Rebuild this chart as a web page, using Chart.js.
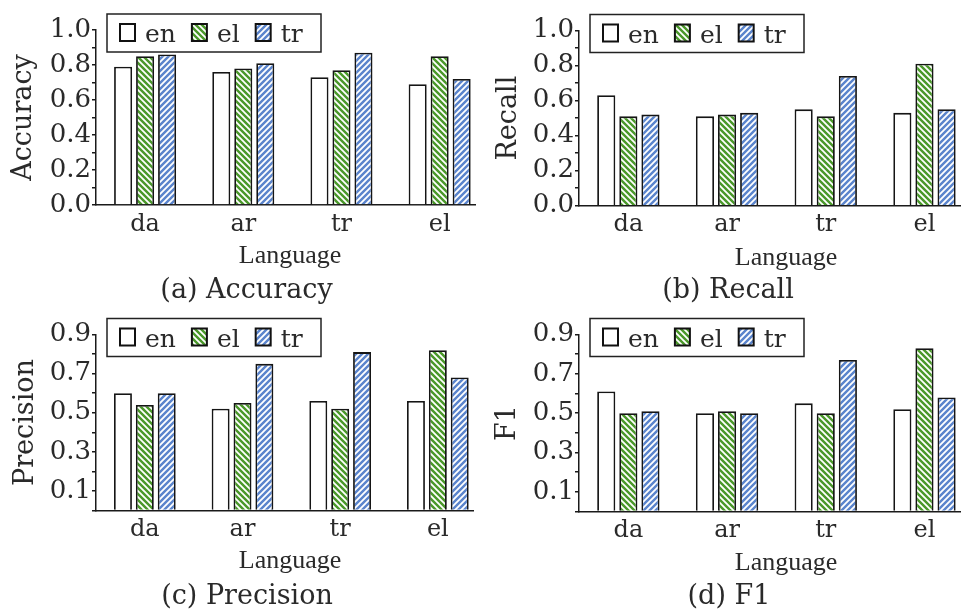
<!DOCTYPE html>
<html>
<head>
<meta charset="utf-8">
<script src="https://cdn.jsdelivr.net/npm/chart.js@4.4.1/dist/chart.umd.min.js"></script>
<style>
  body { margin: 0; background: #fff; }
  #wrap { position: relative; width: 962px; height: 610px; }
  canvas { position: absolute; }
</style>
</head>
<body>
<div id="wrap">
  <canvas id="accChart" width="480" height="305" style="left:0;top:0"></canvas>
  <canvas id="recChart" width="482" height="305" style="left:480px;top:0"></canvas>
  <canvas id="preChart" width="480" height="305" style="left:0;top:305px"></canvas>
  <canvas id="f1Chart" width="482" height="305" style="left:480px;top:305px"></canvas>
</div>
<script>
// languages on the x axis, and the three training languages (series)
const languages = ['da', 'ar', 'tr', 'el'];
const seriesNames = ['en', 'el', 'tr'];

// (a) Accuracy
const accEn = [0.79, 0.76, 0.73, 0.69];
const accEl = [0.85, 0.78, 0.77, 0.85];
const accTr = [0.86, 0.81, 0.87, 0.72];
// (b) Recall
const recEn = [0.63, 0.51, 0.55, 0.53];
const recEl = [0.51, 0.52, 0.51, 0.81];
const recTr = [0.52, 0.53, 0.74, 0.55];
// (c) Precision
const preEn = [0.60, 0.52, 0.56, 0.56];
const preEl = [0.54, 0.55, 0.52, 0.82];
const preTr = [0.60, 0.75, 0.81, 0.68];
// (d) F1
const f1En = [0.61, 0.50, 0.55, 0.52];
const f1El = [0.50, 0.51, 0.50, 0.83];
const f1Tr = [0.51, 0.50, 0.77, 0.58];

// labelled y ticks
const evenTicks = [0.0, 0.2, 0.4, 0.6, 0.8, 1.0];
const oddTicks = [0.1, 0.3, 0.5, 0.7, 0.9];

function stripes(bg, dir) {
  const c = document.createElement('canvas');
  c.width = 6; c.height = 6;
  const g = c.getContext('2d');
  g.fillStyle = bg;
  g.fillRect(0, 0, 6, 6);
  g.strokeStyle = '#fff';
  g.lineWidth = 1.8;
  g.beginPath();
  for (const k of [-6, 0, 6, 12]) {
    if (dir === 'back') { g.moveTo(k - 1, -1); g.lineTo(k + 7, 7); }
    else { g.moveTo(k + 1, -1); g.lineTo(k - 7, 7); }
  }
  g.stroke();
  return g.createPattern(c, 'repeat');
}
const greenHatch = stripes('#4a982a', 'back');
const blueHatch = stripes('#5a84cc', 'fwd');

// legend box inside the plot + x title + sub caption
const legendBox = {
  id: 'legendBox',
  afterDraw(chart, args, opts) {
    const { ctx, chartArea } = chart;
    const x = chartArea.left + 11, y = chartArea.top - 16;
    ctx.save();
    ctx.fillStyle = '#fff';
    ctx.fillRect(x, y, 214, 38);
    ctx.strokeStyle = '#222';
    ctx.lineWidth = 1.5;
    ctx.strokeRect(x, y, 214, 38);
    ctx.font = '25px "DejaVu Serif"';
    ctx.textBaseline = 'alphabetic';
    let ix = x + 13;
    chart.data.datasets.forEach(ds => {
      ctx.fillStyle = ds.backgroundColor;
      ctx.fillRect(ix, y + 10, 15, 17);
      ctx.strokeStyle = '#111';
      ctx.lineWidth = 2;
      ctx.strokeRect(ix, y + 10, 15, 17);
      ctx.fillStyle = '#2a2a2a';
      ctx.fillText(ds.label, ix + 25, y + 28);
      ix += 25 + ctx.measureText(ds.label).width + 16;
    });
    ctx.textAlign = 'center';
    ctx.font = '26px "Liberation Serif"';
    ctx.fillText('Language', opts.langX, opts.langY);
    ctx.font = '27px "DejaVu Serif"';
    ctx.fillText(opts.caption, opts.capX, opts.capY);
    ctx.restore();
  }
};

function makeChart(id, g, en, el, tr, yTitle, yMax, yLabels, caption) {
  const canvas = document.getElementById(id);
  const W = canvas.width, H = canvas.height;
  const pts = arr => arr.map((v, i) => ({ x: i, y: v }));
  return new Chart(canvas, {
    type: 'bar',
    data: {
      datasets: [
        { label: seriesNames[0], data: pts(en), backgroundColor: '#fff', borderColor: '#151515', borderWidth: 1.8 },
        { label: seriesNames[1], data: pts(el), backgroundColor: greenHatch, borderColor: '#151515', borderWidth: 1.8 },
        { label: seriesNames[2], data: pts(tr), backgroundColor: blueHatch, borderColor: '#151515', borderWidth: 1.8 }
      ]
    },
    options: {
      responsive: false,
      animation: false,
      devicePixelRatio: 1,
      categoryPercentage: 0.672,
      barPercentage: 0.82,
      layout: { padding: { left: 0, top: g.top, right: W - g.right, bottom: 0 } },
      plugins: {
        legend: { display: false },
        tooltip: { enabled: false },
        legendBox: { caption: caption, langX: g.langX, langY: g.langY, capX: g.capX, capY: g.capY }
      },
      scales: {
        x: {
          type: 'linear',
          min: -0.5,
          max: 3.36,
          offset: false,
          grid: { display: false, drawTicks: false },
          border: { display: true, color: '#1a1a1a', width: 1.5 },
          ticks: {
            stepSize: 1,
            includeBounds: false,
            autoSkip: false,
            maxRotation: 0,
            padding: 5,
            color: '#2a2a2a',
            font: { family: 'DejaVu Serif', size: 24 },
            callback: v => Number.isInteger(v) ? languages[v] : ''
          },
          afterFit: s => { s.height = H - g.bottom; }
        },
        y: {
          min: 0,
          max: yMax,
          grid: { drawOnChartArea: false, drawTicks: true, tickLength: 4, color: '#1a1a1a', lineWidth: 1.5 },
          border: { display: true, color: '#1a1a1a', width: 1.5 },
          ticks: {
            stepSize: 0.1,
            autoSkip: false,
            padding: 1,
            color: '#2a2a2a',
            font: { family: 'DejaVu Serif', size: 26 },
            callback: v => yLabels.includes(Math.round(v * 10) / 10) ? v.toFixed(1) : ''
          },
          title: {
            display: true,
            text: yTitle,
            color: '#2a2a2a',
            font: { family: 'DejaVu Serif', size: 27 },
            padding: { top: g.titlePad, bottom: 0 }
          },
          afterFit: s => { s.width = g.left; }
        }
      }
    },
    plugins: [legendBox]
  });
}

makeChart('accChart',
  { left: 96, right: 475, top: 30, bottom: 205, titlePad: 7.5, langX: 290, langY: 263, capX: 246.5, capY: 297.5 },
  accEn, accEl, accTr, 'Accuracy', 1.0, evenTicks, '(a) Accuracy');
makeChart('recChart',
  { left: 99, right: 480, top: 30.5, bottom: 205.7, titlePad: 12.5, langX: 306, langY: 265, capX: 248, capY: 297.5 },
  recEn, recEl, recTr, 'Recall', 1.0, evenTicks, '(b) Recall');
makeChart('preChart',
  { left: 96, right: 473, top: 29.5, bottom: 205.5, titlePad: 9.5, langX: 290, langY: 263, capX: 247, capY: 299 },
  preEn, preEl, preTr, 'Precision', 0.9, oddTicks, '(c) Precision');
makeChart('f1Chart',
  { left: 99, right: 480, top: 29.5, bottom: 206.5, titlePad: 11.5, langX: 306, langY: 265, capX: 249, capY: 299 },
  f1En, f1El, f1Tr, 'F1', 0.9, oddTicks, '(d) F1');
</script>
</body>
</html>
